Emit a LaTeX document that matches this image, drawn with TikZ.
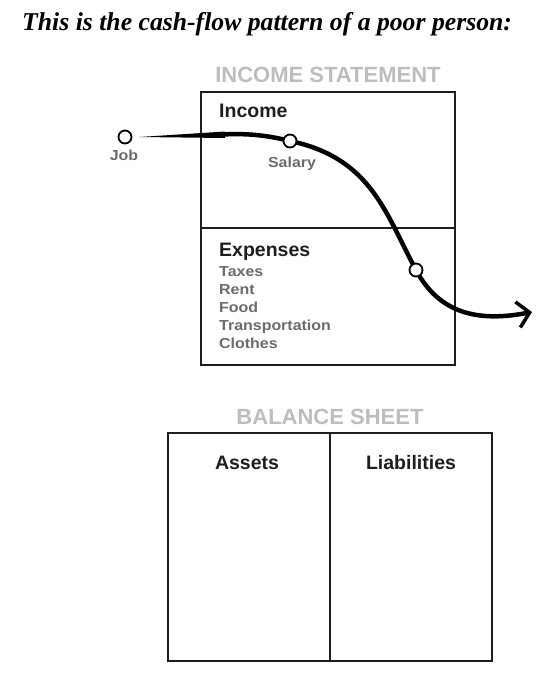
\documentclass[tikz,border=0pt]{standalone}
\usepackage{fontspec}
\setmainfont{Liberation Serif}
\setsansfont{Liberation Sans}
\newfontfamily\widesans[FakeStretch=1.1]{Liberation Sans}
\usetikzlibrary{arrows.meta,positioning,backgrounds}
\definecolor{headgray}{HTML}{BDBDBD}
\definecolor{labelgray}{HTML}{6B6B6B}
\definecolor{inkblack}{HTML}{1E1E1E}
\tikzset{
  sheetframe/.style={draw=inkblack, line width=2.6pt},
  sheethead/.style={font=\sffamily\bfseries\fontsize{22}{22}\selectfont, text=headgray, anchor=base, inner sep=0pt},
  sheettitle/.style={font=\sffamily\bfseries\fontsize{19.5}{19.5}\selectfont, text=inkblack, anchor=base west, inner sep=0pt},
  itemlabel/.style={font=\widesans\bfseries\fontsize{14.5}{14.5}\selectfont, text=labelgray, anchor=base west, inner sep=0pt},
  pointlabel/.style={font=\widesans\bfseries\fontsize{14.5}{14.5}\selectfont, text=labelgray, anchor=base, inner sep=0pt},
  flowpoint/.style={circle, draw=black, fill=white, line width=1.8pt, minimum size=13pt, inner sep=0pt},
  flowline/.style={draw=black, line width=4.5pt, line cap=round},
  flowtip/.style={-{Straight Barb[length=12pt, width=26pt, line width=3.5pt]}}
}

\begin{document}
\begin{tikzpicture}[x=1pt, y=-1pt]
  \useasboundingbox (0,0) rectangle (557,680);

  \node[font=\bfseries\itshape\fontsize{25.7}{25.7}\selectfont, anchor=base west, inner sep=0pt] (title) at (22,30) {This is the cash-flow pattern of a poor person:};

  % income statement
  \node[sheethead] (inchead) at (328,82) {INCOME STATEMENT};
  \node[sheettitle] (income) at (219,117) {Income};
  \node[sheettitle] (expenses) at (219,256) {Expenses};
  \node[itemlabel] (taxes) at (219,276) {Taxes};
  \node[itemlabel] (rent) at (219,294) {Rent};
  \node[itemlabel] (food) at (219,312) {Food};
  \node[itemlabel] (transport) at (219,330) {Transportation};
  \node[itemlabel] (clothes) at (219,348) {Clothes};

  % cash flow points
  \node[flowpoint] (job) at (125,137) {};
  \node[pointlabel] (joblabel) at (124,160) {Job};
  \node[flowpoint] (salary) at (290,141) {};
  \node[pointlabel] (salarylabel) at (292,167) {Salary};
  \node[flowpoint] (spend) at (416,270) {};
  \coordinate (out) at (532,312);

  \begin{scope}[on background layer]
    \draw[sheetframe] (201,92) rectangle (455,365);
    \draw[sheetframe] (201,228) -- (455,228);
    \fill[black] ([xshift=7pt]job.east) -- (225,131.5) -- (225,138) -- cycle;
    \draw[flowline, flowtip] (222,134.5) .. controls (250,133) and (270,136) .. (salary.center)
      .. controls (372,158) and (386,215) .. (spend.center)
      .. controls (440,315) and (480,322) .. (out);
  \end{scope}

  % balance sheet
  \node[sheethead] (balhead) at (330,424) {BALANCE SHEET};
  \draw[sheetframe] (168,433) rectangle (492,661);
  \draw[sheetframe] (330,433) -- (330,661);
  \node[sheettitle, anchor=base] (assets) at (247,469) {Assets};
  \node[sheettitle, anchor=base] (liabilities) at (411,469) {Liabilities};
\end{tikzpicture}
\end{document}
